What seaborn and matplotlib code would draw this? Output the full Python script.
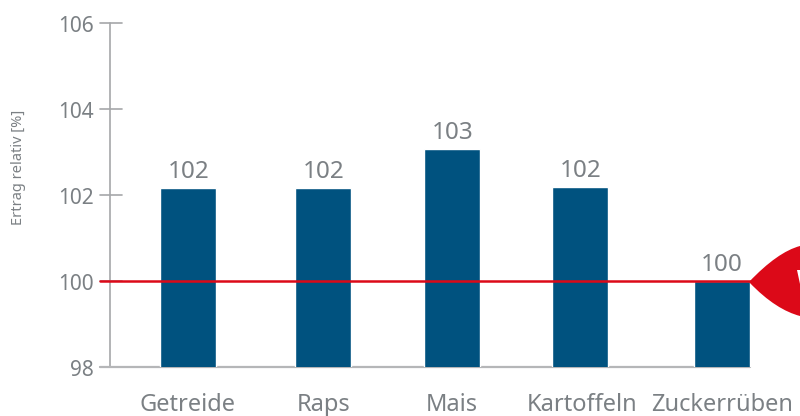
import matplotlib
matplotlib.use("Agg")
import matplotlib.pyplot as plt
import seaborn as sns
import pandas as pd
from matplotlib.patches import PathPatch, Polygon
from matplotlib.path import Path
from matplotlib.transforms import Affine2D

categories = ["Getreide", "Raps", "Mais", "Kartoffeln", "Zuckerrüben"]
values = [102.17, 102.17, 103.07, 102.19, 100.0]
value_labels = ["102", "102", "103", "102", "100"]
y_ticks = [98, 100, 102, 104, 106]

# uneven bar spacing of the original, in figure pixels
bar_centers = [188.2, 323.2, 452.2, 580.2, 722.2]
label_centers = [187.5, 324, 452, 582, 722.5]

GREY = "#7b8084"
BLUE = "#00527f"
RED = "#dc0918"
AXIS = "#a5a7a9"

sns.set_theme(style="white")
plt.rcParams["font.family"] = ["Noto Sans", "DejaVu Sans"]

fig = plt.figure(figsize=(8, 4.16), dpi=100)
top, bottom = 23.3, 367
ax = fig.add_axes([0, (416 - bottom) / 416, 1, (bottom - top) / 416])

df = pd.DataFrame({"pos": bar_centers, "wert": values})
sns.barplot(data=df, x="pos", y="wert", native_scale=True, width=55.5 / 128,
            color=BLUE, saturation=1, ax=ax, zorder=2)
ax.set_xlim(0, 800)
ax.set_ylim(98, 106)
ax.set_xlabel("")
ax.set_ylabel("")
ax.set_xticks([])
ax.set_yticks([])
sns.despine(ax=ax, left=True, bottom=True)

# axis line and ticks sit inside the full-width axes
ax.plot([110, 110], [98, 106], color=AXIS, lw=1.2, zorder=1, clip_on=False)
for t in y_ticks:
    ax.plot([100, 122], [t, t], color=AXIS, lw=1.2, zorder=1, clip_on=False)
    ax.annotate(str(t), (93.5, t), xytext=(0, -0.8), textcoords="offset points", ha="right",
                va="center_baseline", fontsize=15, color=GREY, annotation_clip=False)
ax.plot([100, 750], [98, 98], color="#b5b6b8", lw=1.6, zorder=1, clip_on=False)

for x, v, lab in zip(bar_centers, values, value_labels):
    ax.annotate(lab, (x, v), xytext=(0, 2.8), textcoords="offset points", ha="center", va="bottom",
                fontsize=17.5, color=GREY)
for x, cat in zip(label_centers, categories):
    ax.annotate(cat, (x, 98), xytext=(0, -18.5), textcoords="offset points", ha="center", va="top",
                fontsize=17, color=GREY, annotation_clip=False)

ax.plot([100, 750], [100, 100], color=RED, lw=1.8, zorder=3, clip_on=False)

# red speech-bubble tip cut off by the right edge, drawn in pixels from the top-left
px = Affine2D().scale(1, -1).translate(0, 416)
tip = Path([(749, 282), (768, 262), (785, 250), (800, 246),
            (800, 316), (785, 312), (768, 302), (749, 282)],
           [Path.MOVETO, Path.CURVE4, Path.CURVE4, Path.CURVE4,
            Path.LINETO, Path.CURVE4, Path.CURVE4, Path.CURVE4])
fig.add_artist(PathPatch(tip, transform=px, facecolor=RED, edgecolor="none", zorder=4))
fig.add_artist(Polygon([(797, 270), (800, 270), (800, 284)], closed=True, transform=px,
                       facecolor="white", edgecolor="none", zorder=5))

fig.text(19 / 800, 1 - 167.5 / 416, "Ertrag relativ [%]", rotation=90, ha="center", va="center",
         fontsize=10.5, color=GREY)

fig.savefig("out.png", dpi=100, facecolor="white")
